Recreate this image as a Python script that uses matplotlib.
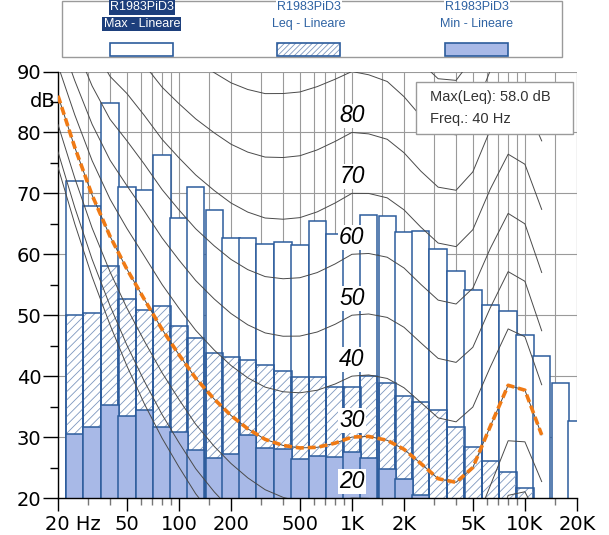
"""Third-octave spectrum (Max / Leq / Min) with ISO 226:1987 loudness contours -> out.png"""

import numpy as np
import matplotlib
matplotlib.use("Agg")
import matplotlib.pyplot as plt
from matplotlib.patches import Rectangle
from matplotlib.transforms import ScaledTranslation

plt.rcParams["font.family"] = ["Liberation Sans", "DejaVu Sans"]
plt.rcParams["hatch.linewidth"] = 0.6

# third-octave bands, nominal centre frequencies (Hz)
BANDS = [25, 31.5, 40, 50, 63, 80, 100, 125, 160, 200, 250, 315, 400, 500,
         630, 800, 1000, 1250, 1600, 2000, 2500, 3150, 4000, 5000, 6300,
         8000, 10000, 12500, 16000, 20000]
MAX_DB = [72.0, 67.9, 84.8, 71.1, 70.5, 76.3, 66.0, 71.1, 67.2, 62.6, 62.7,
          61.7, 62.0, 61.5, 65.5, 63.4, 62.5, 66.5, 66.3, 63.6, 63.9, 60.8,
          57.2, 54.2, 51.7, 50.7, 46.7, 43.3, 38.9, 32.7]
LEQ_DB = [50.0, 50.4, 58.0, 52.6, 50.9, 51.5, 48.2, 46.2, 43.8, 43.1, 42.7,
          41.8, 40.8, 39.9, 39.8, 38.3, 38.3, 40.0, 38.8, 36.8, 35.8, 34.4,
          31.6, 28.3, 26.0, 24.3, 21.6, 19.5, 19.0, 18.5]
MIN_DB = [30.5, 31.7, 35.2, 33.4, 34.5, 31.6, 30.9, 27.8, 26.5, 27.3, 30.3,
          28.2, 28.0, 26.4, 26.9, 26.8, 27.5, 26.5, 24.7, 23.2, 20.5, 19.0,
          19.0, 19.0, 19.0, 19.0, 19.0, 18.5, 18.0, 18.0]

# ISO 226:1987 equal-loudness table (frequency, a_f, b_f, T_f)
ISO_F = [20, 25, 31.5, 40, 50, 63, 80, 100, 125, 160, 200, 250, 315, 400,
         500, 630, 800, 1000, 1250, 1600, 2000, 2500, 3150, 4000, 5000, 6300,
         8000, 10000, 12500]
ISO_AF = [2.347, 2.190, 2.050, 1.879, 1.724, 1.579, 1.512, 1.466, 1.426,
          1.394, 1.372, 1.344, 1.304, 1.256, 1.203, 1.135, 1.062, 1.000,
          0.967, 0.943, 0.932, 0.933, 0.937, 0.952, 0.974, 1.027, 1.135,
          1.266, 1.501]
ISO_BF = [0.00561, 0.00527, 0.00481, 0.00404, 0.00383, 0.00286, 0.00259,
          0.00257, 0.00256, 0.00255, 0.00254, 0.00248, 0.00229, 0.00201,
          0.00162, 0.00111, 0.00052, 0.0, -0.00039, -0.00067, -0.00092,
          -0.00105, -0.00104, -0.00088, -0.00055, 0.0, 0.00089, 0.00211,
          0.00488]
ISO_TF = [74.3, 65.0, 56.3, 48.4, 41.7, 35.5, 29.8, 25.1, 20.7, 16.8, 13.8,
          11.2, 8.9, 7.2, 6.0, 5.0, 4.4, 4.2, 3.7, 2.6, 1.0, -1.2, -3.6, -3.9,
          -1.1, 6.6, 15.3, 16.4, 11.6]
PHONS = [10, 20, 30, 40, 50, 60, 70, 80, 90, 100]
LABEL_PHONS = [20, 30, 40, 50, 60, 70, 80]
REF_PHON = 30

XTICKS = [20, 50, 100, 200, 500, 1000, 2000, 5000, 10000, 20000]
XTICK_LABELS = ["20 Hz", "50", "100", "200", "500", "1K", "2K", "5K", "10K", "20K"]
YTICKS = [20, 30, 40, 50, 60, 70, 80, 90]

EDGE = "#2c5c9c"
HATCH = "#7d97bf"
MINFILL = "#a8b9e7"
GRID = "#9a9a9a"
CONT = "#4a4a4a"
ORANGE = "#f07a14"
LEGTXT = "#2f63a3"

W, H = 609, 535
fig = plt.figure(figsize=(W / 100, H / 100), dpi=100)
ax = fig.add_axes([58 / W, 1 - 498 / H, 519 / W, 426.5 / H])
ax.set_xscale("log")
ax.set_xlim(20, 20000)
ax.set_ylim(20, 90)

# grid: 1..9 per decade plus the 1.5 lines
grid_f = []
for dec in (10, 100, 1000, 10000):
    for m in (1, 1.5, 2, 3, 4, 5, 6, 7, 8, 9):
        v = m * dec
        if 20 <= v <= 20000:
            grid_f.append(v)
grid_f.append(20000)
for v in grid_f:
    ax.axvline(v, color=GRID, lw=0.8, zorder=0.5)
for v in YTICKS[1:]:
    ax.axhline(v, color=GRID, lw=0.8, zorder=0.5)

# bars
fc = np.array(BANDS, dtype=float)
lo = fc / 2 ** (1 / 6)
wid = fc * 2 ** (1 / 6) - lo
ax.bar(lo, MAX_DB, width=wid, align="edge", facecolor="white",
       edgecolor=EDGE, linewidth=1.1, zorder=2)
ax.bar(lo, LEQ_DB, width=wid, align="edge", facecolor="none",
       edgecolor=HATCH, hatch="////", linewidth=0, zorder=2.1)
ax.bar(lo, LEQ_DB, width=wid, align="edge", facecolor="none",
       edgecolor=EDGE, linewidth=1.1, zorder=2.2)
ax.bar(lo, MIN_DB, width=wid, align="edge", facecolor=MINFILL,
       edgecolor=EDGE, linewidth=1.1, zorder=2.3)

# equal-loudness contours (ISO 226:1987)
af = np.array(ISO_AF)
bf = np.array(ISO_BF)
tf = np.array(ISO_TF)


def contour(ln):
    d = ln - 4.2
    return tf + d / (af - bf * d)


ax.plot(ISO_F, tf, color=CONT, lw=0.7, zorder=4)
for p in PHONS:
    ax.plot(ISO_F, contour(p), color=CONT, lw=0.7, zorder=4)
for p in LABEL_PHONS:
    ax.text(1000, p + 2.7, str(p), ha="center", va="center", fontsize=16.5,
            fontstyle="italic", color="black", zorder=5,
            bbox=dict(fc="white", ec="none", pad=0.6))
ax.plot(ISO_F, contour(REF_PHON), color=ORANGE, lw=2.6,
        linestyle=(0, (2.2, 1.1)), zorder=6)

# axes styling
for s in ("top", "right"):
    ax.spines[s].set_visible(False)
ax.spines["left"].set_linewidth(1.0)
ax.spines["bottom"].set_linewidth(1.0)
ax.set_yticks(YTICKS)
ax.set_yticks([25, 35, 45, 55, 65, 75, 85], minor=True)
ax.set_yticklabels([str(v) for v in YTICKS], fontsize=14, family="DejaVu Sans")
ax.tick_params(axis="y", which="major", length=11, width=1, pad=1)
ax.tick_params(axis="y", which="minor", length=6, width=1)
ax.set_xticks(XTICKS)
ax.set_xticklabels(XTICK_LABELS, fontsize=14, family="DejaVu Sans")
ax.set_xticks([v for v in grid_f if v not in XTICKS], minor=True)
ax.xaxis.set_minor_formatter(plt.NullFormatter())
ax.tick_params(axis="x", which="major", length=9, width=1, pad=3, colors="black")
ax.tick_params(axis="x", which="minor", length=5, width=1, color="#777777")
first = ax.get_xticklabels()[0]
first.set_horizontalalignment("left")
first.set_transform(first.get_transform()
                    + ScaledTranslation(-13 / 100, 0, fig.dpi_scale_trans))
ax.text(-0.005, 85, "dB", transform=ax.get_yaxis_transform(), ha="right",
        va="center", fontsize=14, family="DejaVu Sans")

# info box
ax.add_patch(Rectangle((0.690, 0.854), 0.302, 0.122, transform=ax.transAxes,
                       facecolor="white", edgecolor="#9a9a9a", lw=1, zorder=7))
ax.text(0.717, 0.941, "Max(Leq): 58.0 dB", transform=ax.transAxes,
        fontsize=10.5, color="#333333", va="center", zorder=8)
ax.text(0.717, 0.889, "Freq.: 40 Hz", transform=ax.transAxes,
        fontsize=10.5, color="#333333", va="center", zorder=8)

# legend strip at the top
fig.patches.append(Rectangle((62 / W, 1 - 57 / H), 500 / W, 56 / H,
                             transform=fig.transFigure, facecolor="white",
                             edgecolor="#9a9a9a", lw=1))
names = ["Max - Lineare", "Leq - Lineare", "Min - Lineare"]
centers = [141.7, 309.0, 476.7]
for i, (nm, cx) in enumerate(zip(names, centers)):
    if i == 0:
        kw = dict(color="white", bbox=dict(fc="#1d3f7c", ec="none", pad=0.8))
    else:
        kw = dict(color=LEGTXT, bbox=dict(fc="white", ec="none", pad=0.8))
    fig.text(cx / W, 1 - 7.5 / H, "R1983PiD3", ha="center", va="center",
             fontsize=9, **kw)
    fig.text(cx / W, 1 - 24 / H, nm, ha="center", va="center",
             fontsize=9, **kw)

sw = dict(transform=fig.transFigure, lw=1.2, edgecolor=EDGE)
fig.patches.append(Rectangle((110 / W, 1 - 56 / H), 63 / W, 13 / H,
                             facecolor="white", **sw))
fig.patches.append(Rectangle((277 / W, 1 - 56 / H), 63 / W, 13 / H,
                             facecolor="white", hatch="//////",
                             transform=fig.transFigure, lw=0, edgecolor=HATCH))
fig.patches.append(Rectangle((277 / W, 1 - 56 / H), 63 / W, 13 / H,
                             facecolor="none", **sw))
fig.patches.append(Rectangle((445 / W, 1 - 56 / H), 63 / W, 13 / H,
                             facecolor=MINFILL, **sw))

fig.savefig("out.png", dpi=100, facecolor="white")
